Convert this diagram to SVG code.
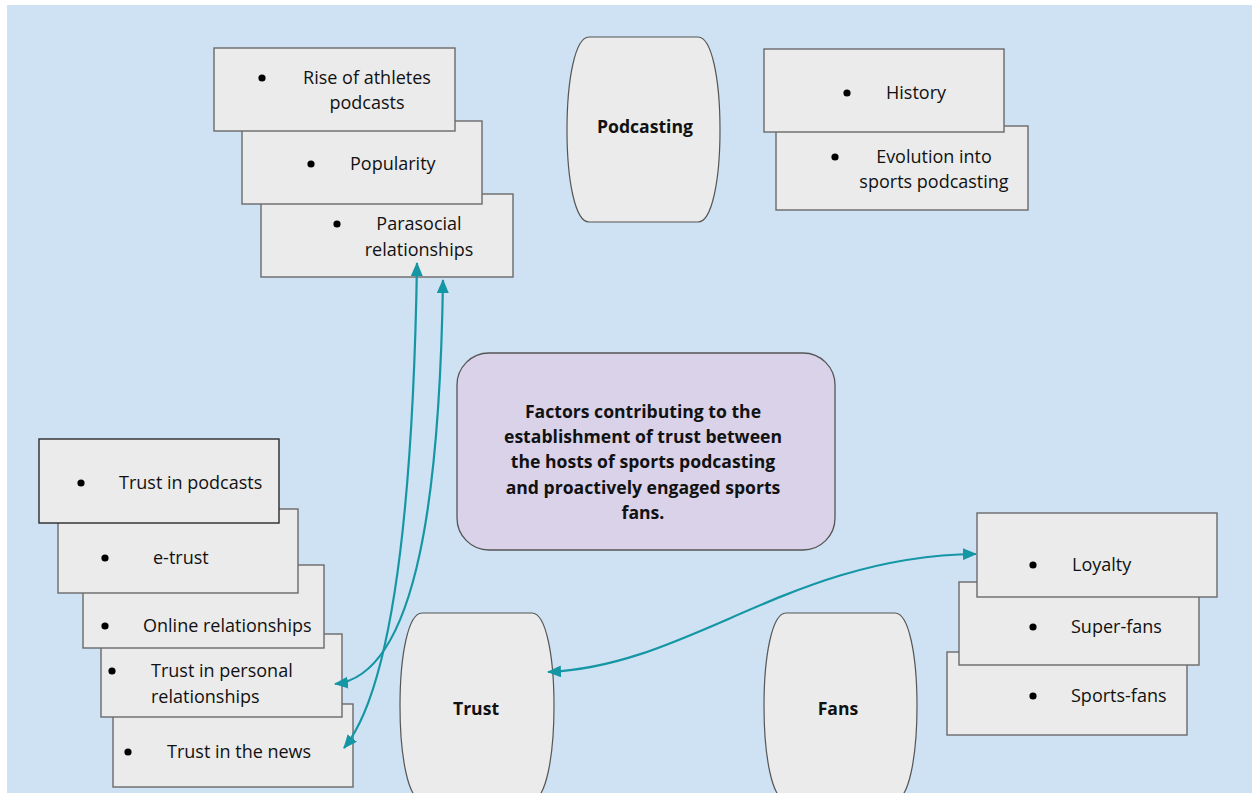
<svg xmlns="http://www.w3.org/2000/svg" width="1252" height="793" viewBox="0 0 1252 793">
<defs>
<style>
.box{fill:#ebebeb;stroke:#6a6a6a;stroke-width:1.4}
.boxd{fill:#ebebeb;stroke:#2a2a2a;stroke-width:1.4}
.shape{fill:#ebebeb;stroke:#555;stroke-width:1.2}
.t{font-family:"Open Sans","Liberation Sans",sans-serif;font-size:18px;fill:#111}
.b{font-family:"Open Sans","Liberation Sans",sans-serif;font-size:17.6px;font-weight:bold;fill:#111}
.m{text-anchor:middle}
.dot{fill:#000}
.conn{fill:none;stroke:#1596a4;stroke-width:2.2}
</style>
<marker id="ah" viewBox="0 0 14 12" refX="13" refY="6" markerWidth="14" markerHeight="12" markerUnits="userSpaceOnUse" orient="auto-start-reverse">
<path d="M0,0 L14,6 L0,12 Z" fill="#1596a4"/>
</marker>
</defs>
<rect x="0" y="0" width="1252" height="793" fill="#ffffff"/>
<rect x="7" y="5" width="1245" height="788" fill="#cfe2f3"/>

<g id="rise-group">
<g id="parasocial"><rect class="box" x="261" y="194" width="252" height="83"/><circle class="dot" cx="337" cy="224" r="3.6"/><text class="t m" x="419" y="230">Parasocial</text><text class="t m" x="419" y="256">relationships</text></g>
<g id="popularity"><rect class="box" x="242" y="121" width="240" height="83"/><circle class="dot" cx="311" cy="164" r="3.6"/><text class="t" x="350" y="170">Popularity</text></g>
<g id="rise"><rect class="box" x="214" y="48" width="241" height="83"/><circle class="dot" cx="262" cy="78" r="3.6"/><text class="t m" x="367" y="84">Rise of athletes</text><text class="t m" x="367" y="109">podcasts</text></g>
</g>

<g id="podcasting"><path class="shape" d="M589,37 L698,37 C712,37 720,80 720,130 C720,180 712,222 698,222 L589,222 C575,222 567,180 567,130 C567,80 575,37 589,37 Z"/><text class="b m" x="645" y="133">Podcasting</text></g>

<g id="history-group">
<g id="evolution"><rect class="box" x="776" y="126" width="252" height="84"/><circle class="dot" cx="835" cy="157" r="3.6"/><text class="t m" x="934" y="163">Evolution into</text><text class="t m" x="934" y="188">sports podcasting</text></g>
<g id="history"><rect class="box" x="764" y="49" width="240" height="83"/><circle class="dot" cx="847" cy="93" r="3.6"/><text class="t" x="886" y="99">History</text></g>
</g>

<g id="center"><rect x="457" y="353" width="378" height="197" rx="32" ry="32" fill="#d9d2e9" stroke="#555" stroke-width="1.3"/>
<text class="b m" x="643" y="418">Factors contributing to the</text>
<text class="b m" x="643" y="443">establishment of trust between</text>
<text class="b m" x="643" y="468">the hosts of sports podcasting</text>
<text class="b m" x="643" y="494">and proactively engaged sports</text>
<text class="b m" x="643" y="519">fans.</text>
</g>

<g id="trust-group">
<g id="news"><rect class="box" x="113" y="704" width="240" height="83"/><circle class="dot" cx="128" cy="752" r="3.6"/><text class="t" x="167" y="758">Trust in the news</text></g>
<g id="personal"><rect class="box" x="101" y="634" width="241" height="83"/><circle class="dot" cx="112" cy="671" r="3.6"/><text class="t" x="151" y="677">Trust in personal</text><text class="t" x="151" y="703">relationships</text></g>
<g id="online"><rect class="box" x="83" y="565" width="241" height="83"/><circle class="dot" cx="105" cy="626" r="3.6"/><text class="t" x="143" y="632">Online relationships</text></g>
<g id="etrust"><rect class="box" x="58" y="509" width="240" height="84"/><circle class="dot" cx="105" cy="558" r="3.6"/><text class="t" x="153" y="564">e-trust</text></g>
<g id="trust-podcasts"><rect class="boxd" x="39" y="439" width="240" height="84"/><circle class="dot" cx="81" cy="483" r="3.6"/><text class="t" x="119" y="489">Trust in podcasts</text></g>
</g>

<g id="trust"><path class="shape" d="M422,613 L532,613 C546,613 554,656 554,706 C554,756 546,800 532,800 L422,800 C408,800 400,756 400,706 C400,656 408,613 422,613 Z"/><text class="b m" x="476" y="715">Trust</text></g>
<g id="fans"><path class="shape" d="M786,613 L895,613 C909,613 917,656 917,706 C917,756 909,800 895,800 L786,800 C772,800 764,756 764,706 C764,656 772,613 786,613 Z"/><text class="b m" x="838" y="715">Fans</text></g>

<g id="fans-group">
<g id="sportsfans"><rect class="box" x="947" y="652" width="240" height="83"/><circle class="dot" cx="1033" cy="696" r="3.6"/><text class="t" x="1071" y="702">Sports-fans</text></g>
<g id="superfans"><rect class="box" x="959" y="582" width="240" height="83"/><circle class="dot" cx="1033" cy="627" r="3.6"/><text class="t" x="1071" y="633">Super-fans</text></g>
<g id="loyalty"><rect class="box" x="977" y="513" width="240" height="84"/><circle class="dot" cx="1033" cy="565" r="3.6"/><text class="t" x="1072" y="571">Loyalty</text></g>
</g>

<g id="connectors">
<path class="conn" marker-start="url(#ah)" marker-end="url(#ah)" d="M417,263 C414,450 400,680 344,748"/>
<path class="conn" marker-start="url(#ah)" marker-end="url(#ah)" d="M443,280 C440,480 420,675 335,684"/>
<path class="conn" marker-start="url(#ah)" marker-end="url(#ah)" d="M548,672 C690,666 790,556 976,554"/>
</g>
</svg>
